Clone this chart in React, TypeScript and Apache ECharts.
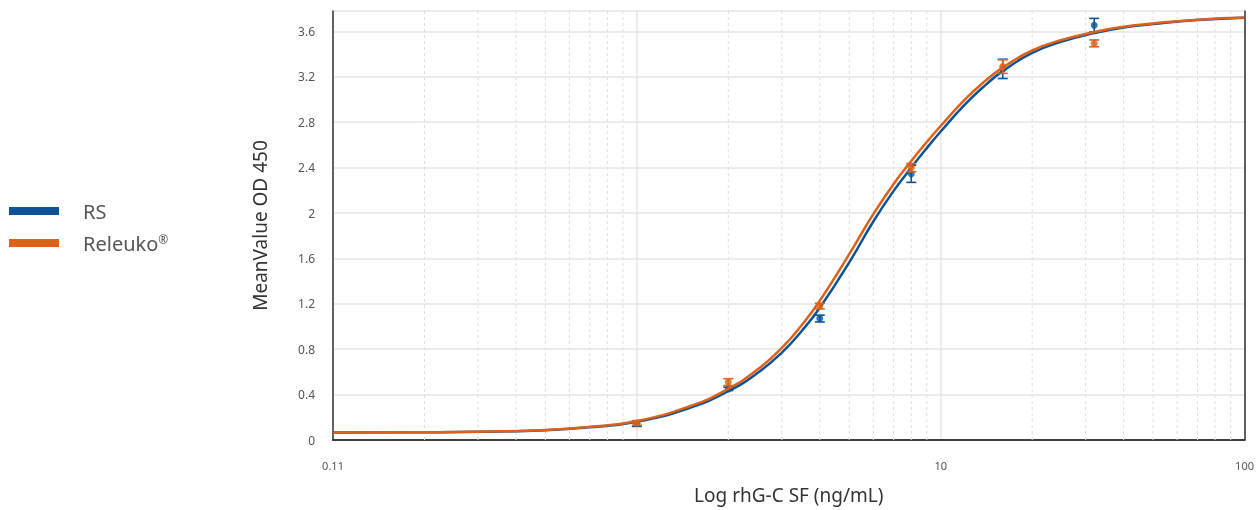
import React, { useEffect, useRef } from "react";
import * as echarts from "echarts";

const curveX = [0.1, 0.2, 0.3, 0.5, 0.7, 1, 1.5, 2, 2.5, 3, 3.5, 4, 5, 6, 7, 8, 9, 10, 12, 14, 16, 20, 25, 32, 40, 50, 70, 100];
const rsCurve = [0.066, 0.068, 0.072, 0.086, 0.112, 0.16, 0.285, 0.43, 0.592, 0.77, 0.965, 1.165, 1.565, 1.925, 2.195, 2.4, 2.572, 2.718, 2.955, 3.125, 3.25, 3.41, 3.51, 3.585, 3.635, 3.665, 3.7, 3.72];
const releukoCurve = [0.066, 0.068, 0.073, 0.088, 0.116, 0.168, 0.3, 0.452, 0.623, 0.812, 1.017, 1.227, 1.637, 1.99, 2.256, 2.458, 2.626, 2.767, 2.999, 3.164, 3.281, 3.432, 3.524, 3.595, 3.641, 3.67, 3.703, 3.722];

const doseX = [1, 2, 4, 8, 16, 32];
const rsMean = [0.145, 0.45, 1.07, 2.345, 3.27, 3.655];
const rsErr = [0.025, 0.015, 0.03, 0.075, 0.085, 0.06];
const releukoMean = [0.15, 0.51, 1.18, 2.4, 3.29, 3.495];
const releukoErr = [0.02, 0.03, 0.025, 0.036, 0.06, 0.03];

const minorX = [0.2, 0.3, 0.4, 0.5, 0.6, 0.7, 0.8, 0.9, 2, 3, 4, 5, 6, 7, 8, 9, 20, 30, 40, 50, 60, 70, 80, 90];

const BLUE = "#0b5394";
const ORANGE = "#dd6119";
const FONT = "'Noto Sans', sans-serif";
const BORDER = "#333";

function errorSeries(name: string, xs: number[], ys: number[], es: number[], color: string, z: number) {
  return {
    type: "custom",
    name,
    z,
    silent: true,
    data: xs.map((x, i) => [x, ys[i], es[i]]),
    renderItem: (params: any, api: any) => {
      const x = api.value(0);
      const y = api.value(1);
      const e = api.value(2);
      const top = api.coord([x, y + e]);
      const bot = api.coord([x, y - e]);
      const hw = 5;
      const st = { stroke: color, lineWidth: 1.6 };
      return {
        type: "group",
        children: [
          { type: "line", shape: { x1: top[0], y1: top[1], x2: bot[0], y2: bot[1] }, style: st },
          { type: "line", shape: { x1: top[0] - hw, y1: top[1], x2: top[0] + hw, y2: top[1] }, style: st },
          { type: "line", shape: { x1: bot[0] - hw, y1: bot[1], x2: bot[0] + hw, y2: bot[1] }, style: st },
        ],
      };
    },
  };
}

const frameAxis = (position: string) => ({
  type: "value",
  position,
  min: 0,
  max: 1,
  axisLine: { show: true, lineStyle: { color: BORDER, width: 1.5 } },
  axisTick: { show: false },
  axisLabel: { show: false },
  splitLine: { show: false },
});

export default function App() {
  const ref = useRef<HTMLDivElement>(null);
  useEffect(() => {
    document.body.style.margin = "0";
    const chart = echarts.init(ref.current!, null, { renderer: "svg" });
    chart.setOption({
      animation: false,
      textStyle: { fontFamily: FONT },
      legend: {
        orient: "vertical",
        left: 9,
        top: 201,
        padding: 0,
        icon: "rect",
        itemWidth: 50,
        itemHeight: 8,
        itemGap: 12,
        data: ["RS", "Releuko®"],
        formatter: (n: string) => n.replace("®", "{sup|®}"),
        textStyle: {
          fontSize: 20,
          color: "#555",
          fontFamily: FONT,
          padding: [0, 0, 0, 19],
          rich: { sup: { fontSize: 12, color: "#555", verticalAlign: "top", padding: [0, 0, 6, 0] } },
        },
      },
      grid: {
        left: 333,
        right: 10,
        top: 11,
        bottom: 70,
      },
      xAxis: [
        {
          type: "log",
          logBase: 10,
          min: 0.1,
          max: 100,
          name: "Log rhG-C SF (ng/mL)",
          nameLocation: "middle",
          nameGap: 45,
          nameTextStyle: { fontSize: 19, color: "#333", fontFamily: FONT },
          axisLine: { show: true, lineStyle: { color: BORDER, width: 1.5 } },
          axisTick: { show: false },
          axisLabel: {
            fontSize: 11,
            color: "#555",
            margin: 20,
            formatter: (v: number) => (v < 0.5 ? "0.11" : v > 0.5 && v < 5 ? "" : String(v)),
          },
          splitLine: { show: true, lineStyle: { color: "#e6e6e6", width: 1.5 } },
        },
        frameAxis("top"),
      ],
      yAxis: [
        {
          type: "value",
          min: 0,
          max: 3.78,
          interval: 0.4,
          name: "MeanValue OD 450",
          nameLocation: "middle",
          nameGap: 64,
          nameTextStyle: { fontSize: 19, color: "#333", fontFamily: FONT },
          axisLine: { show: true, lineStyle: { color: BORDER, width: 1.5 } },
          axisTick: { show: false },
          axisLabel: { fontSize: 12, color: "#555", margin: 18, showMaxLabel: false },
          splitLine: { show: true, lineStyle: { color: "#e6e6e6", width: 1.5 } },
        },
        frameAxis("right"),
      ],
      series: [
        {
          type: "custom",
          name: "_minor",
          z: 1,
          silent: true,
          data: minorX.map((v) => [v]),
          renderItem: (params: any, api: any) => {
            const cs = params.coordSys;
            const p = api.coord([api.value(0), 0]);
            return {
              type: "line",
              shape: { x1: p[0], y1: cs.y, x2: p[0], y2: cs.y + cs.height },
              style: { stroke: "#dedede", lineWidth: 1, lineDash: [3, 3] },
            };
          },
        },
        errorSeries("_rsErr", doseX, rsMean, rsErr, BLUE, 3),
        {
          type: "scatter",
          name: "_rsPts",
          z: 3,
          symbol: "circle",
          symbolSize: 7,
          itemStyle: { color: BLUE },
          data: doseX.map((x, i) => [x, rsMean[i]]),
        },
        {
          type: "line",
          name: "RS",
          z: 4,
          smooth: 0.5,
          symbol: "none",
          color: BLUE,
          lineStyle: { color: BLUE, width: 2.5 },
          data: curveX.map((x, i) => [x, rsCurve[i]]),
        },
        errorSeries("_relErr", doseX, releukoMean, releukoErr, ORANGE, 5),
        {
          type: "scatter",
          name: "_relPts",
          z: 5,
          symbol: "circle",
          symbolSize: 7,
          itemStyle: { color: ORANGE },
          data: doseX.map((x, i) => [x, releukoMean[i]]),
        },
        {
          type: "line",
          name: "Releuko®",
          z: 6,
          smooth: 0.5,
          symbol: "none",
          color: ORANGE,
          lineStyle: { color: ORANGE, width: 2.5 },
          data: curveX.map((x, i) => [x, releukoCurve[i]]),
        },
      ],
    });
    return () => chart.dispose();
  }, []);
  return <div ref={ref} style={{ position: "fixed", left: 0, top: 0, width: 1257, height: 510 }} />;
}
